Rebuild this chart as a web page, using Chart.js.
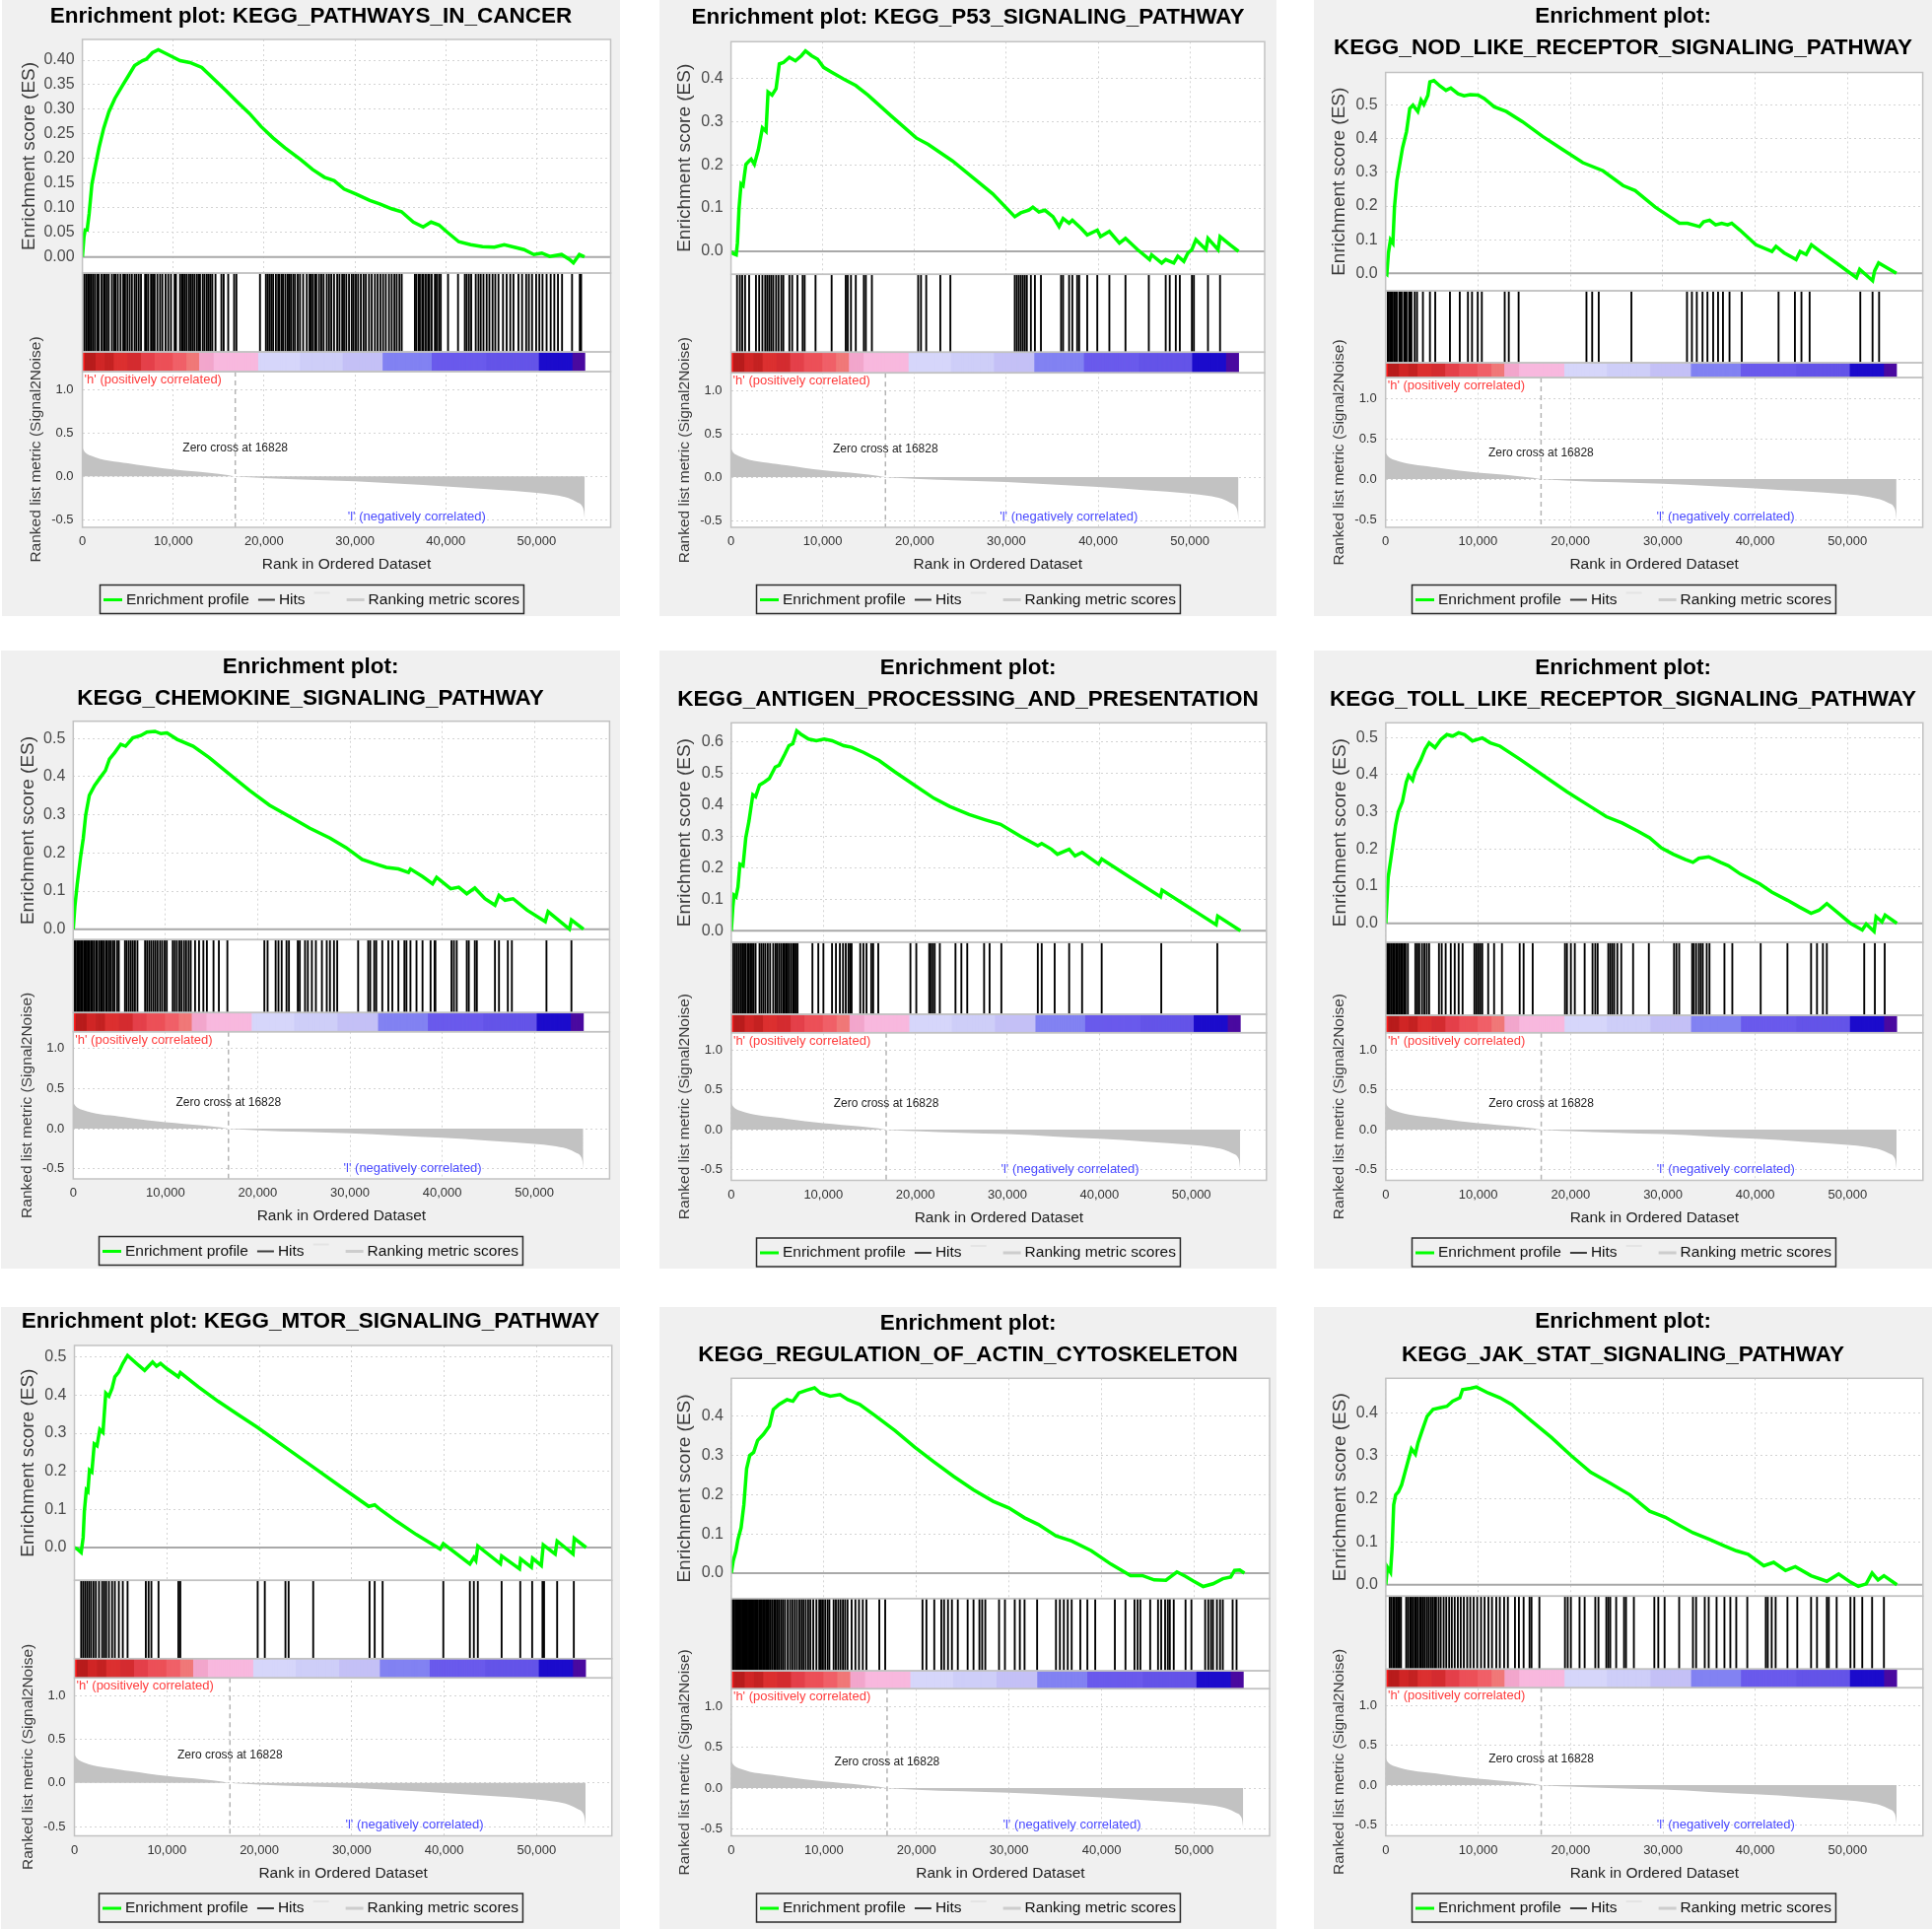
<!DOCTYPE html>
<html>
<head>
<meta charset="utf-8">
<script src="https://cdn.jsdelivr.net/npm/chart.js@4.4.1/dist/chart.umd.min.js"></script>
<style>
  html, body { margin: 0; padding: 0; background: #fff; }
  body { width: 1960px; height: 1957px; position: relative; overflow: hidden; }
  .panel { position: absolute; background: #f0f0f0; }
  .panel canvas { display: block; }
</style>
</head>
<body>
<script>
const FONT = '"Liberation Sans", Arial, Helvetica, sans-serif';

// ---- ranked list (same for every gene set) ----
const metricRanks = [0, 200, 500, 1000, 2000, 3000, 4000, 5000, 6000, 8000, 10000, 12000, 14000, 16000, 16828, 18000, 20000, 25000, 30000, 35000, 40000, 45000, 50000, 52000, 53500, 54500, 55000, 55200, 55300];
const metricValues = [0.33, 0.29, 0.26, 0.235, 0.2, 0.18, 0.165, 0.15, 0.135, 0.105, 0.08, 0.06, 0.04, 0.015, 0, -0.008, -0.02, -0.04, -0.057, -0.085, -0.115, -0.15, -0.19, -0.215, -0.25, -0.3, -0.34, -0.4, -0.5];
const zeroCross = 16828;
const negLabelRank = 36800;
const zeroLabelValue = 0.32;

// heat bar: [from rank, to rank, colour]
const heatRuns = [
  [0, 300, '#ff1a1a'], [300, 1500, '#b81c1c'], [1500, 2500, '#d02626'], [2500, 3500, '#c42222'],
  [3500, 5000, '#dc3030'], [5000, 6500, '#d42c30'], [6500, 8000, '#e4404a'], [8000, 10000, '#ec5058'],
  [10000, 11500, '#f06068'], [11500, 12900, '#f07878'], [12900, 14500, '#f2a6cc'], [14500, 19400, '#f8b8de'],
  [19400, 24000, '#d6d6fa'], [24000, 28700, '#cecef8'], [28700, 33100, '#c4c0f6'], [33100, 38500, '#8282f2'],
  [38500, 44500, '#6a5aec'], [44500, 50300, '#6454e8'], [50300, 54000, '#1c0ccc'], [54000, 55300, '#4a0aa0']
];

const rankTicks = [0, 10000, 20000, 30000, 40000, 50000];

// ---- KEGG_PATHWAYS_IN_CANCER ----
const cancerRanks = [0,174,305,522,740,1044,1393,1828,2350,2916,3569,4439,5092,5745,6615,7050,7703,8356,9009,9662,10749,11837,13143,14449,15754,17060,18365,19671,20977,22282,24023,25329,26634,27722,28810,30116,31639,32727,34033,35121,36426,37514,38384,39255,40125,41431,42737,44043,45348,46436,47524,48612,49700,50570,51440,52746,53616,54051,54704,55270];
const cancerES = [0,0.041,0.055,0.055,0.088,0.148,0.182,0.222,0.262,0.295,0.322,0.349,0.369,0.389,0.399,0.402,0.415,0.421,0.415,0.409,0.399,0.395,0.385,0.362,0.339,0.315,0.292,0.265,0.242,0.222,0.198,0.178,0.162,0.155,0.138,0.128,0.115,0.108,0.098,0.092,0.071,0.061,0.071,0.065,0.051,0.031,0.025,0.021,0.020,0.025,0.020,0.015,0.005,0.008,0.001,0.005,-0.005,-0.012,0.005,0];
const cancerHits = [200,400,600,800,1000,1200,1400,1650,1800,2100,2350,2500,2700,2900,3250,3500,3650,3900,4200,4500,4700,4950,5200,5450,5750,5950,6200,6450,6900,7050,7250,7550,7750,7950,8250,8550,8800,9150,9450,9750,10150,10300,10750,10950,11100,11300,11500,11750,11950,12150,12350,12600,12800,12950,13250,13450,13700,13900,14100,14300,14650,15300,15550,16050,16700,16950,19550,20200,20400,20600,20800,21000,21300,21550,21700,21950,22100,22350,22600,22750,22950,23200,23400,23700,23950,24300,24700,25000,25150,25350,25600,25750,26050,26300,26550,26900,27150,27400,27700,28050,28300,28600,28800,29050,29350,29650,29850,30100,30350,30650,30950,31200,31550,31850,32200,32500,32800,33100,33400,33750,34050,34350,34600,34900,35150,36600,36750,37000,37150,37400,37550,37800,38050,38200,38450,38800,39000,39250,39450,40250,41350,42100,42300,42550,42800,43300,43600,43850,44150,44500,44800,45150,45450,45800,46300,46700,47100,47450,48000,48400,48850,49150,49500,49950,50300,50650,51100,51550,51950,52350,52800,53900,54750,54900];

// ---- KEGG_P53_SIGNALING_PATHWAY ----
const p53Ranks = [0,219,570,700,877,1096,1316,1623,1974,2193,2544,2982,3421,3816,4035,4474,4912,5263,5702,6360,7018,7675,8114,8772,9430,10088,10965,12281,13597,14912,17544,20176,21491,24123,26316,28509,30921,31579,32456,32895,33553,34211,35088,35746,36184,36842,37193,38158,38816,39912,40263,41228,42325,42983,44298,45614,45833,46930,47368,48246,48684,49342,49781,50219,50658,51754,51973,53070,53289,54386,55300];
const p53ES = [0,-0.005,-0.008,0.019,0.10,0.156,0.152,0.201,0.209,0.213,0.201,0.235,0.285,0.277,0.368,0.361,0.376,0.433,0.436,0.448,0.440,0.452,0.463,0.452,0.444,0.425,0.414,0.398,0.383,0.361,0.311,0.262,0.247,0.209,0.171,0.133,0.080,0.089,0.095,0.102,0.091,0.095,0.080,0.057,0.076,0.065,0.072,0.053,0.038,0.049,0.034,0.046,0.019,0.030,0.004,-0.019,-0.008,-0.027,-0.019,-0.027,-0.011,-0.023,-0.004,0.004,0.027,0.004,0.030,0.004,0.034,0.015,0];
const p53Hits = [658,965,1228,1535,1974,2719,3070,3421,3728,3947,4167,4386,4605,4912,5175,5483,5702,6360,6667,7237,7807,8026,9211,10965,12500,12719,13070,13597,14474,14693,15351,20395,20702,21272,22807,23904,30921,31140,31360,31579,31799,32018,32237,32676,33114,33772,35965,36184,36842,37193,37719,37939,38816,39912,41228,42983,45526,47368,47807,48465,48904,50219,50438,51973,53289];

// ---- KEGG_NOD_LIKE_RECEPTOR_SIGNALING_PATHWAY ----
const nodRanks = [0,131,305,523,784,959,1220,1525,1830,2266,2614,2963,3486,3834,4139,4575,4793,5228,5882,6536,7058,7843,8496,9150,10021,10675,11764,13071,14814,16992,19171,21349,23528,25706,27013,29192,31806,32678,33985,34420,35074,35727,36381,37035,37470,38341,40084,41827,42263,43134,44441,44877,45530,46097,47055,48798,50976,51325,52720,52938,53374,55300];
const nodES = [0,-0.003,0.061,0.100,0.090,0.197,0.276,0.324,0.373,0.422,0.490,0.500,0.481,0.515,0.502,0.529,0.569,0.573,0.557,0.544,0.551,0.534,0.528,0.531,0.530,0.520,0.495,0.481,0.451,0.407,0.368,0.329,0.305,0.261,0.246,0.197,0.149,0.149,0.139,0.153,0.158,0.144,0.149,0.144,0.149,0.129,0.085,0.065,0.080,0.061,0.041,0.065,0.056,0.085,0.065,0.031,-0.013,0.012,-0.022,0.007,0.031,0];
const nodHits = [230,350,496,620,761,938,1100,1204,1469,1600,1735,2000,2150,2266,2532,2650,2797,3151,3400,4040,4800,5372,6965,8027,8912,9354,9974,10416,12894,13336,14398,21744,22364,23071,26611,32629,33160,33691,34311,34842,35461,35992,36523,37231,38558,42541,44311,45019,45904,51391,52718,53426];

// ---- KEGG_CHEMOKINE_SIGNALING_PATHWAY ----
const chemoRanks = [0,175,436,785,1091,1353,1745,2312,2967,3490,3927,4494,5148,5672,6457,7330,7984,8857,9511,10166,11257,13002,14747,16929,19110,21292,23473,25655,27836,29581,31326,32635,33944,35253,36344,36562,37871,38962,39398,40925,41797,42670,43543,44633,45724,46160,46815,47688,49215,51178,51484,53797,54015,55324];
const chemoES = [0,0.059,0.119,0.188,0.239,0.300,0.351,0.377,0.399,0.416,0.446,0.463,0.485,0.480,0.502,0.508,0.517,0.519,0.513,0.515,0.498,0.480,0.450,0.407,0.364,0.325,0.295,0.265,0.239,0.214,0.183,0.172,0.162,0.158,0.149,0.158,0.138,0.119,0.136,0.106,0.110,0.093,0.108,0.080,0.063,0.089,0.076,0.080,0.050,0.020,0.046,0,0.024,0];
const chemoHits = [100,230,410,540,710,860,990,1170,1290,1460,1610,1740,1920,2060,2240,2460,2590,2810,2990,3160,3340,3560,3690,3910,4090,4310,4480,4760,4940,5610,5790,6020,6240,6460,6690,6960,7790,8010,8240,8460,8690,8910,9140,9410,9640,9910,10140,10790,11010,11240,11510,11740,12010,12240,12510,12740,13210,13640,14110,14490,15210,15790,16710,20724,21073,21946,22251,22600,23124,23386,24346,24564,25131,25437,25873,26309,26963,27487,27836,28272,28621,30890,31981,32199,32635,32853,33508,34162,34599,35253,35907,36126,36562,37217,37871,38744,39180,39267,41012,41274,41580,42670,42889,43543,43761,45724,46160,47120,47557,51309,54014];

// ---- KEGG_ANTIGEN_PROCESSING_AND_PRESENTATION ----
const antigenRanks = [0,170,298,511,724,937,1278,1576,1917,2342,2640,3066,3620,4131,4770,5196,5835,6261,6687,7112,7538,8390,9242,10094,10946,12223,13075,14353,16057,17760,19890,22019,23723,25852,27556,29260,31389,33305,33731,34796,35435,36713,37352,38118,39907,40248,43314,46636,46806,52684,52854,55324];
const antigenES = [0,0.076,0.113,0.108,0.139,0.212,0.207,0.296,0.348,0.432,0.426,0.463,0.473,0.484,0.520,0.526,0.562,0.588,0.594,0.635,0.625,0.609,0.604,0.609,0.604,0.588,0.583,0.567,0.541,0.505,0.463,0.421,0.395,0.369,0.353,0.338,0.301,0.270,0.277,0.259,0.243,0.259,0.238,0.249,0.212,0.228,0.170,0.108,0.129,0.019,0.047,0];
const antigenHits = [213,426,639,852,1065,1235,1405,1576,1789,1917,2087,2257,2428,2641,3066,3279,3492,3705,3961,4216,4557,4813,4983,5196,5409,5622,5750,5920,6090,6261,6474,6687,6857,7027,7198,8816,9455,10009,10946,11372,11797,12138,12436,12734,12905,13075,14012,14353,14694,15205,15418,15971,19464,20102,21508,21678,21891,22104,22658,24361,25000,25639,27470,28066,29345,33305,33731,35137,36713,38118,40248,46721,52811];

// ---- KEGG_TOLL_LIKE_RECEPTOR_SIGNALING_PATHWAY ----
const tollRanks = [0,128,256,512,767,1066,1364,1790,2217,2473,2899,3197,3751,4263,4689,5328,5968,6607,7247,7886,8526,9379,10444,11297,12363,14494,17052,19610,22168,23873,25578,27283,28562,29841,31120,32399,33252,33891,34957,36236,37088,38367,40499,41777,43483,44762,46041,46893,47746,49024,50303,51582,52008,52861,53074,53714,54055,55334];
const tollES = [0,0.062,0.124,0.168,0.212,0.265,0.301,0.327,0.380,0.398,0.385,0.411,0.438,0.469,0.486,0.473,0.495,0.508,0.504,0.513,0.508,0.491,0.499,0.486,0.477,0.442,0.398,0.354,0.314,0.287,0.270,0.248,0.230,0.203,0.186,0.172,0.164,0.175,0.179,0.164,0.155,0.133,0.106,0.084,0.062,0.044,0.027,0.035,0.053,0.027,0,-0.018,-0.002,-0.022,0.018,0.004,0.022,0];
const tollHits = [128,256,426,597,767,938,1108,1279,1449,1620,1790,1961,2132,2387,3197,3410,3624,3922,4178,4434,4689,5755,6053,6480,7034,7460,7887,8313,9592,9805,10018,10231,10444,11084,11723,12576,14494,14921,15901,19397,19610,20036,20462,21528,22381,22679,22935,24086,24299,24512,24725,25066,25493,26772,28477,31205,31461,31760,33166,33337,33593,33891,34104,34317,34743,35042,36662,37514,40584,43483,46040,46680,47319,47746,51795,52946,54012];

// ---- KEGG_MTOR_SIGNALING_PATHWAY ----
const mtorRanks = [0,300,730,944,1073,1288,1459,1631,1888,2146,2446,2747,3090,3391,3734,4077,4378,4807,5236,5751,6953,7597,8455,8884,9314,9957,11245,11460,13391,15537,17683,19829,22833,25838,28842,31847,32491,33135,34851,36997,39572,39916,42791,43221,43435,43650,46096,46225,48157,48285,49444,49573,50517,50732,52020,52234,53951,54080,55367];
const mtorES = [0,-0.004,-0.013,0.026,0.095,0.151,0.147,0.203,0.198,0.272,0.267,0.310,0.302,0.405,0.397,0.418,0.448,0.461,0.483,0.504,0.478,0.465,0.487,0.476,0.483,0.470,0.448,0.459,0.422,0.384,0.349,0.315,0.263,0.211,0.159,0.108,0.112,0.099,0.069,0.034,-0.004,0.010,-0.043,-0.026,-0.034,0.004,-0.043,-0.022,-0.056,-0.030,-0.052,-0.028,-0.047,0.007,-0.017,0.017,-0.017,0.024,0];
const mtorHits = [730,944,1159,1373,1588,1803,2060,2318,2661,3004,3219,3434,3734,4077,4378,4807,5236,5751,7726,8026,8327,9099,11245,11460,19829,20601,22833,23177,25838,31932,32491,33349,39916,42791,43221,43650,46225,48242,49530,50646,50818,52234,54037];

// ---- KEGG_REGULATION_OF_ACTIN_CYTOSKELETON ----
const actinRanks = [0,212,509,721,1060,1357,1654,1993,2417,2841,3478,4114,4538,5174,6022,6659,7295,8143,8991,9627,10687,11748,12596,13868,15565,17685,19806,21926,24047,26167,28288,29984,31680,33165,35073,36770,38890,41011,43131,44404,45676,46948,48136,49069,49917,50977,52037,53097,53945,54369,54920,55429];
const actinES = [0,0.032,0.057,0.086,0.116,0.174,0.266,0.300,0.308,0.338,0.354,0.375,0.417,0.430,0.442,0.438,0.459,0.466,0.472,0.459,0.451,0.455,0.442,0.430,0.401,0.363,0.321,0.283,0.246,0.212,0.183,0.166,0.141,0.124,0.095,0.082,0.057,0.023,-0.006,-0.006,-0.017,-0.018,0.003,-0.008,-0.020,-0.034,-0.027,-0.014,-0.010,0.007,0.008,0];
const actinHits = [80,210,315,455,575,705,815,955,1075,1205,1325,1455,1575,1705,1825,1955,2075,2205,2325,2455,2575,2705,2845,3005,3145,3305,3445,3605,3745,3905,4045,4205,4395,4605,4795,5005,5195,5405,5595,5805,6095,6355,6595,6855,7095,7355,7595,7805,8045,8305,8545,8855,9195,9505,9695,9905,10145,10405,10595,11055,11295,11555,11795,12055,12295,12555,12995,13405,13795,14205,14595,15989,16625,20654,21078,21926,22689,22986,23410,23834,24470,25531,26167,26803,27100,27439,28924,29560,30620,31171,31680,33037,35073,35497,35921,36345,36770,37703,38466,39314,41435,42580,43555,43894,44191,45251,46100,46439,46863,47160,47372,47796,49069,49705,51189,51528,51825,52037,52461,52800,53097,54157,54581];

// ---- KEGG_JAK_STAT_SIGNALING_PATHWAY ----
const jakRanks = [0,171,512,682,853,1066,1364,1705,2046,2473,2771,3197,3496,3922,4476,5116,5968,6607,7247,8014,8313,9166,9805,11084,12363,13642,15773,17905,20036,22168,24299,26431,28562,30267,31972,33251,34957,36662,37940,39220,40925,41991,43270,44336,46040,47746,49025,50303,51156,52008,52648,53288,53927,55334];
const jakES = [0,0.041,0.029,0.086,0.186,0.209,0.216,0.232,0.259,0.293,0.316,0.304,0.331,0.358,0.392,0.408,0.412,0.415,0.427,0.435,0.454,0.457,0.460,0.446,0.435,0.419,0.381,0.343,0.301,0.262,0.236,0.209,0.171,0.157,0.136,0.121,0.106,0.090,0.079,0.071,0.044,0.052,0.033,0.042,0.021,0.008,0.025,0.006,-0.004,0.002,0.027,0.011,0.021,0];
const jakHits = [420,590,790,945,1125,1295,1485,1645,2205,2395,2610,2775,2955,3145,3310,3495,3705,3845,4055,4245,4460,4645,4855,5045,5260,5445,5710,5945,6260,6545,6860,7145,7460,7795,8110,8445,8810,9145,9510,9895,10310,10695,11110,11495,11960,12345,12810,13215,13983,14409,14920,15560,15773,16626,19397,19695,20036,20974,21528,22679,23020,23873,24086,24299,24939,25791,26004,26857,29073,29500,30182,31759,33251,33593,34530,34957,35809,36662,37301,37941,39134,41138,41351,41777,42204,43483,44548,46040,46680,47746,47959,48811,50303,50729,51582,52648,53927];

const legendItems = [
  { text: 'Enrichment profile', color: '#00ff00', width: 3, len: 19 },
  { text: 'Hits', color: '#3c3c3c', width: 2, len: 17 },
  { text: '', color: '#e4e4e4', width: 2, len: 16 },
  { text: 'Ranking metric scores', color: '#cdcdcd', width: 3, len: 18 }
];

// layout of each panel (page pixels); rows = [ES top, ES bottom, hits bottom, heat bottom, metric bottom]
const panels = [
  { title: ['Enrichment plot: KEGG_PATHWAYS_IN_CANCER'], ranks: cancerRanks, es: cancerES, hits: cancerHits, step: 0.05, digits: 2,
    at: [2, 0, 627, 625], plot: [81.6, 617.5], rows: [40, 277, 357, 377, 535], esZero: 260.7, esRef: [61, 0.40], metZero: 483.3, metOne: 395.3, titleY: [17], esTitleX: 28 },
  { title: ['Enrichment plot: KEGG_P53_SIGNALING_PATHWAY'], ranks: p53Ranks, es: p53ES, hits: p53Hits, step: 0.1, digits: 1,
    at: [669, 0, 626, 625], plot: [72.6, 614], rows: [42.3, 278.3, 357.3, 378.3, 535], esZero: 255, esRef: [79.3, 0.4], metZero: 484, metOne: 396, titleY: [18], esTitleX: 25.7 },
  { title: ['Enrichment plot:', 'KEGG_NOD_LIKE_RECEPTOR_SIGNALING_PATHWAY'], ranks: nodRanks, es: nodES, hits: nodHits, step: 0.1, digits: 1,
    at: [1333, 0, 627, 625], plot: [72.7, 617.6], rows: [73.5, 295, 368, 383, 535], esZero: 277.3, esRef: [106.7, 0.5], metZero: 486, metOne: 404, titleY: [16.7, 48.3], esTitleX: 25.8 },
  { title: ['Enrichment plot:', 'KEGG_CHEMOKINE_SIGNALING_PATHWAY'], ranks: chemoRanks, es: chemoES, hits: chemoHits, step: 0.1, digits: 1,
    at: [1, 660, 628, 627], plot: [73.3, 617.4], rows: [71.7, 293.3, 367.3, 386.7, 536], esZero: 282.7, esRef: [89.3, 0.5], metZero: 485, metOne: 403.75, titleY: [16.7, 48.3], esTitleX: 27.6 },
  { title: ['Enrichment plot:', 'KEGG_ANTIGEN_PROCESSING_AND_PRESENTATION'], ranks: antigenRanks, es: antigenES, hits: antigenHits, step: 0.1, digits: 1,
    at: [669, 660, 626, 627], plot: [72.9, 615.8], rows: [73.3, 296, 369, 387.7, 537.5], esZero: 284.3, esRef: [92.7, 0.6], metZero: 486, metOne: 405, titleY: [17.5, 50], esTitleX: 25.9 },
  { title: ['Enrichment plot:', 'KEGG_TOLL_LIKE_RECEPTOR_SIGNALING_PATHWAY'], ranks: tollRanks, es: tollES, hits: tollHits, step: 0.1, digits: 1,
    at: [1333, 660, 627, 627], plot: [72.9, 617.8], rows: [73.3, 296, 370, 387.7, 537.5], esZero: 276.7, esRef: [88.3, 0.5], metZero: 486, metOne: 405, titleY: [17.5, 50], esTitleX: 27 },
  { title: ['Enrichment plot: KEGG_MTOR_SIGNALING_PATHWAY'], ranks: mtorRanks, es: mtorES, hits: mtorHits, step: 0.1, digits: 1,
    at: [1, 1326, 628, 631], plot: [74.5, 619.7], rows: [39, 277.3, 356.7, 376.3, 536.5], esZero: 244, esRef: [50.7, 0.5], metZero: 482.75, metOne: 394, titleY: [15], esTitleX: 27.9 },
  { title: ['Enrichment plot:', 'KEGG_REGULATION_OF_ACTIN_CYTOSKELETON'], ranks: actinRanks, es: actinES, hits: actinHits, step: 0.1, digits: 1,
    at: [669, 1326, 626, 631], plot: [72.9, 619], rows: [72.3, 295.7, 369, 387.3, 536.5], esZero: 270, esRef: [110.7, 0.4], metZero: 488, metOne: 405, titleY: [16.5, 49], esTitleX: 25.9 },
  { title: ['Enrichment plot:', 'KEGG_JAK_STAT_SIGNALING_PATHWAY'], ranks: jakRanks, es: jakES, hits: jakHits, step: 0.1, digits: 1,
    at: [1333, 1326, 627, 631], plot: [72.9, 617.8], rows: [72.3, 293.3, 367.3, 386.3, 536.5], esZero: 281.7, esRef: [107.3, 0.4], metZero: 485, metOne: 404, titleY: [15, 49], esTitleX: 27 }
];

const X_MAX = 58150;
const HEAT_STEP = 100;
const X_AXIS_H = 50;

const toPoints = (xs, ys) => xs.slice(0, Math.min(xs.length, ys.length)).map((x, i) => ({ x: x, y: ys[i] }));

function heatBars() {
  const pts = [], cols = [];
  heatRuns.forEach(([a, b, c]) => {
    for (let s = a; s < b; s += HEAT_STEP) {
      pts.push({ x: s + HEAT_STEP / 2, y: 1 });
      cols.push(c);
    }
  });
  return { pts, cols };
}

function hline(ctx, x1, y1, x2, y2) {
  ctx.beginPath(); ctx.moveTo(x1, y1); ctx.lineTo(x2, y2); ctx.stroke();
}

function drawLegend(ctx, W, top) {
  ctx.font = '15.5px ' + FONT;
  const gapText = 4, gapItem = 9, padX = 4, h = 29;
  let total = padX * 2;
  legendItems.forEach((it, i) => {
    total += it.len + (it.text ? gapText + ctx.measureText(it.text).width : 8);
    if (i < legendItems.length - 1) total += gapItem;
  });
  const left = Math.round(W / 2 - total / 2);
  const cy = top + h / 2;
  ctx.strokeStyle = '#2a2a2a'; ctx.lineWidth = 1.5; ctx.setLineDash([]);
  ctx.strokeRect(left + 0.5, top + 0.5, total, h);
  let x = left + padX;
  legendItems.forEach(it => {
    ctx.strokeStyle = it.color; ctx.lineWidth = it.width;
    const ly = it.text ? cy + 1 : cy - 6;
    hline(ctx, x, ly, x + it.len, ly);
    x += it.len;
    if (it.text) {
      x += gapText;
      ctx.fillStyle = '#111'; ctx.textAlign = 'left'; ctx.textBaseline = 'middle';
      ctx.fillText(it.text, x, cy + 1);
      x += ctx.measureText(it.text).width;
    } else {
      x += 8;
    }
    x += gapItem;
  });
}

function decor(p) {
  return {
    id: 'gseaDecor',
    beforeDraw(chart) {
      const { ctx, chartArea: a } = chart;
      ctx.save();
      ctx.fillStyle = '#fff';
      ctx.fillRect(a.left, a.top, a.right - a.left, a.bottom - a.top);
      ctx.restore();
    },
    beforeDatasetsDraw(chart) {
      const { ctx, chartArea: a, scales: s } = chart;
      ctx.save();
      // no grid behind the hit marks
      ctx.fillStyle = '#fff';
      ctx.fillRect(a.left, s.yHits.top, a.right - a.left, s.yHits.bottom - s.yHits.top);
      const y0 = s.yES.getPixelForValue(0);
      ctx.strokeStyle = '#a9a9a9'; ctx.lineWidth = 2;
      hline(ctx, a.left, y0, a.right, y0);
      const xz = s.x.getPixelForValue(zeroCross);
      ctx.setLineDash([5, 4]); ctx.strokeStyle = '#b4b4b4'; ctx.lineWidth = 1.5;
      hline(ctx, xz, s.yMetric.top, xz, s.yMetric.bottom);
      ctx.restore();
    },
    afterDatasetsDraw(chart) {
      const { ctx, chartArea: a, scales: s, width: W } = chart;
      ctx.save();
      // frames of the four strips
      ctx.strokeStyle = '#c2c2c2'; ctx.lineWidth = 1.5;
      ['yES', 'yHits', 'yColor', 'yMetric'].forEach(id => {
        const sc = s[id];
        ctx.strokeRect(a.left, sc.top, a.right - a.left, sc.bottom - sc.top);
      });

      // title
      ctx.fillStyle = '#000'; ctx.textAlign = 'center'; ctx.textBaseline = 'middle';
      ctx.font = 'bold 22.5px ' + FONT;
      p.title.forEach((t, i) => ctx.fillText(t, W / 2, p.titleY[i]));

      // y axis titles
      ctx.fillStyle = '#3a3a3a';
      ctx.save();
      ctx.translate(p.esTitleX, (s.yES.top + s.yES.bottom) / 2);
      ctx.rotate(-Math.PI / 2);
      ctx.font = '19px ' + FONT;
      ctx.fillText('Enrichment score (ES)', 0, 0);
      ctx.restore();
      ctx.save();
      ctx.translate(p.plot[0] - 47, (s.yMetric.top + s.yMetric.bottom) / 2);
      ctx.rotate(-Math.PI / 2);
      ctx.font = '15.5px ' + FONT;
      ctx.fillText('Ranked list metric (Signal2Noise)', 0, 0);
      ctx.restore();

      // annotations in the metric strip
      ctx.font = '13px ' + FONT;
      ctx.textAlign = 'left';
      ctx.fillStyle = '#ff3c3c';
      ctx.fillText("'h' (positively correlated)", a.left + 2, s.yColor.bottom + 8.5);
      ctx.textAlign = 'center';
      ctx.fillStyle = '#4a4aff';
      ctx.fillText("'l' (negatively correlated)", s.x.getPixelForValue(negLabelRank), s.yMetric.bottom - 11);
      ctx.font = '12px ' + FONT;
      ctx.fillStyle = '#222';
      ctx.fillText('Zero cross at ' + zeroCross, s.x.getPixelForValue(zeroCross), s.yMetric.getPixelForValue(zeroLabelValue));

      drawLegend(ctx, W, p.rows[4] + 58);
      ctx.restore();
    }
  };
}

function makePanel(p) {
  const [px, py, W, H] = p.at;
  const div = document.createElement('div');
  div.className = 'panel';
  div.style.left = px + 'px'; div.style.top = py + 'px';
  div.style.width = W + 'px'; div.style.height = H + 'px';
  const canvas = document.createElement('canvas');
  canvas.width = W; canvas.height = H;
  div.appendChild(canvas);
  document.body.appendChild(div);

  const [plotL, plotR] = p.plot;
  const [esTop, esBot, hitsBot, colorBot, metBot] = p.rows;
  const pad = W - plotR;
  const yw = plotL - pad;
  const esPx = (p.esZero - p.esRef[0]) / p.esRef[1];
  const metPx = p.metZero - p.metOne;
  const pxPerRank = (plotR - plotL) / X_MAX;
  const heat = heatBars();
  const fitW = sc => { sc.width = yw; };
  const dotted = { display: false, dash: [2, 3] };
  const gridCol = '#d4d4d4';

  new Chart(canvas, {
    type: 'line',
    data: {
      datasets: [
        { type: 'line', label: 'Enrichment profile', data: toPoints(p.ranks, p.es), yAxisID: 'yES',
          borderColor: '#00ff00', borderWidth: 3.5, pointRadius: 0, fill: false, tension: 0 },
        { type: 'bar', label: 'Hits', data: p.hits.map(r => ({ x: r, y: 1 })), yAxisID: 'yHits',
          backgroundColor: '#000', barThickness: 1.2, grouped: false },
        { type: 'bar', label: 'Heat', data: heat.pts, yAxisID: 'yColor',
          backgroundColor: heat.cols, barThickness: HEAT_STEP * pxPerRank + 0.3, grouped: false },
        { type: 'line', label: 'Ranking metric scores', data: toPoints(metricRanks, metricValues), yAxisID: 'yMetric',
          borderWidth: 0, borderColor: 'rgba(0,0,0,0)', backgroundColor: '#c2c2c2', fill: 'origin',
          pointRadius: 0, cubicInterpolationMode: 'monotone' }
      ]
    },
    options: {
      responsive: false,
      animation: false,
      devicePixelRatio: 1,
      layout: { padding: { top: esTop, left: pad, right: pad, bottom: H - metBot - X_AXIS_H } },
      plugins: { legend: { display: false }, tooltip: { enabled: false }, title: { display: false } },
      scales: {
        x: {
          type: 'linear', position: 'bottom', min: 0, max: X_MAX, offset: false,
          afterFit: sc => { sc.height = X_AXIS_H; },
          afterBuildTicks: sc => { sc.ticks = rankTicks.map(v => ({ value: v })); },
          grid: { color: gridCol, drawTicks: false, offset: false },
          border: dotted,
          ticks: { font: { family: FONT, size: 13 }, color: '#333', padding: 7, maxRotation: 0, autoSkip: false,
                   callback: v => v.toLocaleString('en-US') },
          title: { display: true, text: 'Rank in Ordered Dataset', font: { family: FONT, size: 15.5 }, color: '#222',
                   padding: { top: 0, bottom: 2.7 } }
        },
        yMetric: {
          type: 'linear', position: 'left', stack: 'gsea', stackWeight: metBot - colorBot, weight: 1,
          min: -(metBot - p.metZero) / metPx, max: (p.metZero - colorBot) / metPx,
          afterFit: fitW,
          grid: { color: gridCol, drawTicks: false },
          border: dotted,
          ticks: { stepSize: 0.5, includeBounds: false, autoSkip: false, font: { family: FONT, size: 13 }, color: '#333', padding: 9,
                   callback: v => v.toFixed(1) }
        },
        yColor: {
          type: 'linear', position: 'left', stack: 'gsea', stackWeight: colorBot - hitsBot, weight: 2,
          min: 0, max: 1, afterFit: fitW,
          grid: { display: false }, border: { display: false }, ticks: { display: false }
        },
        yHits: {
          type: 'linear', position: 'left', stack: 'gsea', stackWeight: hitsBot - esBot, weight: 3,
          min: 0, max: 1, afterFit: fitW,
          grid: { display: false }, border: { display: false }, ticks: { display: false }
        },
        yES: {
          type: 'linear', position: 'left', stack: 'gsea', stackWeight: esBot - esTop, weight: 4,
          min: -(esBot - p.esZero) / esPx, max: (p.esZero - esTop) / esPx,
          afterFit: fitW,
          grid: { color: gridCol, drawTicks: false },
          border: dotted,
          ticks: { stepSize: p.step, includeBounds: false, autoSkip: false, font: { family: FONT, size: 16 }, color: '#4a4a4a', padding: 8,
                   callback: v => v.toFixed(p.digits) }
        }
      }
    },
    plugins: [decor(p)]
  });
}

panels.forEach(makePanel);
</script>
</body>
</html>
